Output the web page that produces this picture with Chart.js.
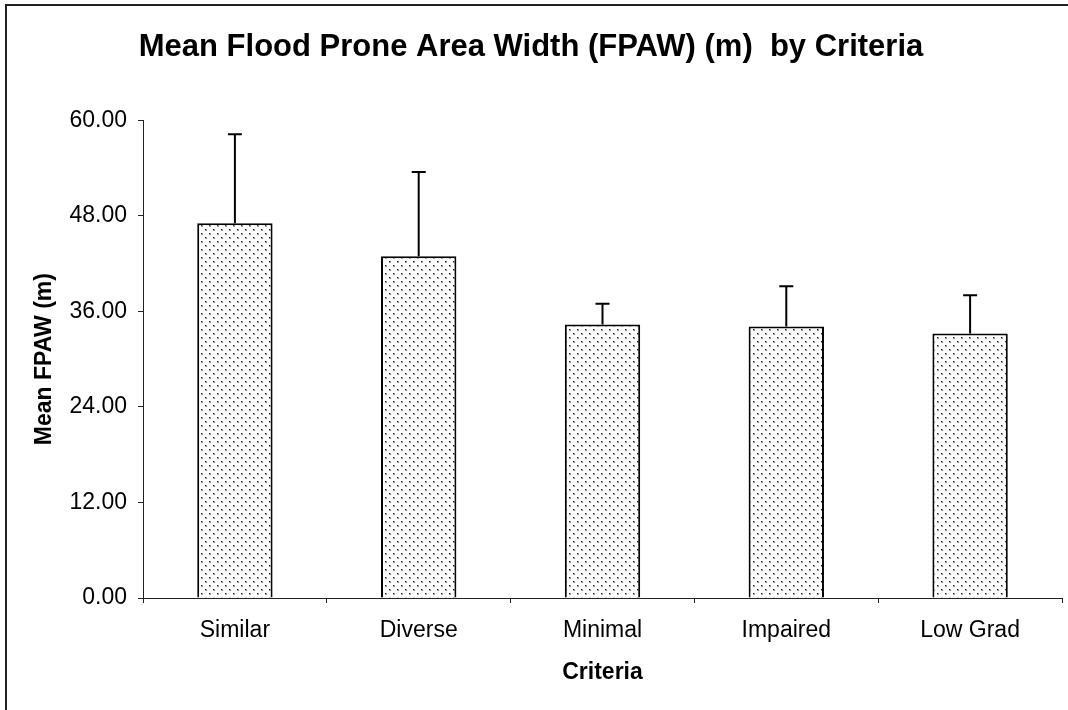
<!DOCTYPE html>
<html>
<head>
<meta charset="utf-8">
<script src="https://cdn.jsdelivr.net/npm/chart.js@4.4.1/dist/chart.umd.min.js"></script>
<style>
  body { margin: 0; background: #fff; }
  canvas { display: block; }
</style>
</head>
<body>
<canvas id="fpawChart" width="1068" height="710"></canvas>
<script>
// podaci ocitani sa slike
const categories = ['Similar', 'Diverse', 'Minimal', 'Impaired', 'Low Grad'];
const meanFpaw = [47.07, 42.93, 34.35, 34.10, 33.22];
const errPlus = [11.17, 10.58, 2.59, 5.06, 4.81]; // gornji error bar
const yTicks = [0, 12, 24, 36, 48, 60];

const FONT = '"Liberation Sans", Arial, sans-serif';

// tockasti uzorak za stupce
function dotPattern() {
    const c = document.createElement('canvas');
    c.width = 8; c.height = 8;
    const g = c.getContext('2d');
    g.fillStyle = '#fff';
    g.fillRect(0, 0, 8, 8);
    g.fillStyle = '#999';
    g.fillRect(1, 1, 2, 2);
    g.fillRect(5, 5, 2, 2);
    g.fillStyle = '#111';
    g.fillRect(1, 1, 1, 1);
    g.fillRect(5, 5, 1, 1);
    return g.createPattern(c, 'repeat');
}

// okvir oko cijelog grafa
const frame = {
    id: 'frame',
    beforeDraw(chart) {
        const ctx = chart.ctx;
        ctx.save();
        ctx.fillStyle = '#fff';
        ctx.fillRect(0, 0, chart.width, chart.height);
        ctx.strokeStyle = '#222';
        ctx.lineWidth = 2;
        ctx.strokeRect(6, 5, chart.width + 20, chart.height + 20);
        ctx.restore();
    }
};

// error barovi (samo gornji)
const errorBars = {
    id: 'errorBars',
    afterDatasetsDraw(chart) {
        const ctx = chart.ctx;
        const yScale = chart.scales.y;
        const meta = chart.getDatasetMeta(0);
        ctx.save();
        ctx.strokeStyle = '#000';
        ctx.lineWidth = 2;
        meta.data.forEach((bar, i) => {
            const yTop = yScale.getPixelForValue(meanFpaw[i] + errPlus[i]);
            ctx.beginPath();
            ctx.moveTo(bar.x, bar.y);
            ctx.lineTo(bar.x, yTop);
            ctx.moveTo(bar.x - 7, yTop);
            ctx.lineTo(bar.x + 7, yTop);
            ctx.stroke();
        });
        ctx.restore();
    }
};

new Chart(document.getElementById('fpawChart'), {
    type: 'bar',
    data: {
        labels: categories,
        datasets: [{
            label: 'Mean FPAW',
            data: meanFpaw,
            backgroundColor: dotPattern(),
            borderColor: '#000',
            borderWidth: 2,
            categoryPercentage: 1,
            barPercentage: 0.41
        }]
    },
    options: {
        responsive: false,
        animation: false,
        layout: { padding: { left: 0, right: 6, top: 0, bottom: 0 } },
        plugins: {
            legend: { display: false },
            tooltip: { enabled: false },
            title: {
                display: true,
                text: 'Mean Flood Prone Area Width (FPAW) (m)  by Criteria',
                color: '#000',
                font: { family: FONT, size: 31, weight: 'bold' },
                padding: { top: 29, bottom: 54 }
            }
        },
        scales: {
            x: {
                grid: { drawOnChartArea: false, tickLength: 5, color: '#222', offset: true },
                border: { display: true, color: '#222', width: 1 },
                ticks: { color: '#000', font: { family: FONT, size: 23 }, padding: 14 },
                title: {
                    display: true,
                    text: 'Criteria',
                    color: '#000',
                    font: { family: FONT, size: 23, weight: 'bold' },
                    padding: { top: 0, bottom: 24 }
                },
                afterFit(s) { s.height = 112; }
            },
            y: {
                min: yTicks[0],
                max: yTicks[yTicks.length - 1],
                afterBuildTicks(s) { s.ticks = yTicks.map(v => ({ value: v })); },
                grid: { drawOnChartArea: false, tickLength: 5, color: '#222' },
                border: { display: true, color: '#222', width: 1 },
                ticks: {
                    color: '#000',
                    font: { family: FONT, size: 23 },
                    padding: 11,
                    callback: v => Number(v).toFixed(2)
                },
                title: {
                    display: true,
                    text: 'Mean FPAW (m)',
                    color: '#000',
                    font: { family: FONT, size: 23, weight: 'bold' },
                    padding: { top: 31, bottom: 0 }
                },
                afterFit(s) { s.width = 143; }
            }
        }
    },
    plugins: [frame, errorBars]
});
</script>
</body>
</html>
